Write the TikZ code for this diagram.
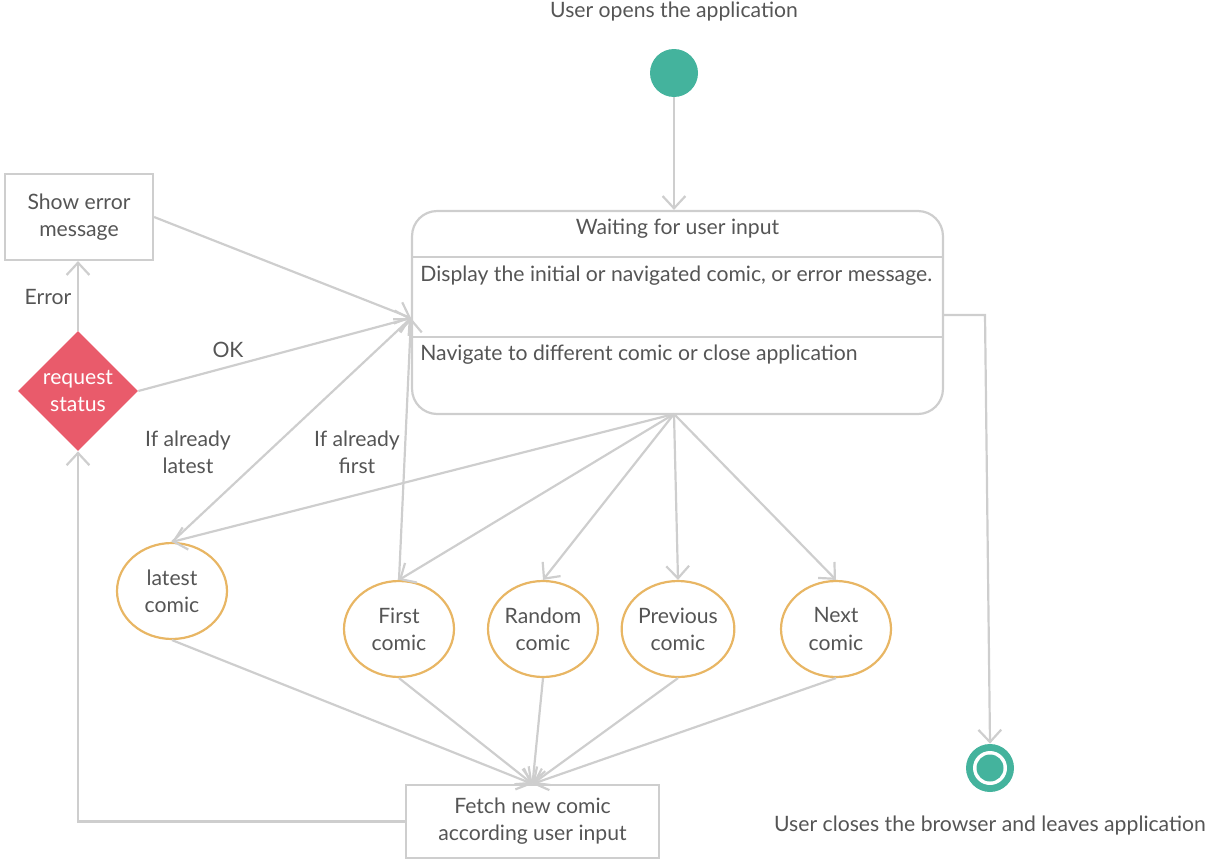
\documentclass[tikz,border=0pt]{standalone}
\usepackage{fontspec}
\setmainfont{Lato}
\usetikzlibrary{arrows.meta,shapes.geometric,calc}
\definecolor{linegray}{RGB}{206,206,206}
\definecolor{txt}{RGB}{85,85,85}
\definecolor{tealc}{RGB}{68,179,157}
\definecolor{goldc}{RGB}{232,182,100}
\definecolor{rosec}{RGB}{233,91,107}
\begin{document}
\begin{tikzpicture}[x=0.02cm,y=-0.02cm,
  font=\fontsize{12.05}{15.4}\selectfont, text=txt,
  conn/.style={draw=linegray, line width=1.25pt},
  arr/.style={conn, -{Straight Barb[length=7pt,width=13pt]}},
  boxst/.style={draw=linegray, line width=1.25pt, align=center, inner sep=0pt},
  comic/.style={ellipse, draw=goldc, line width=1.25pt, minimum width=2.2cm, minimum height=1.92cm, inner sep=0pt, align=center},
  lbl/.style={align=center, inner sep=0pt}]
\useasboundingbox (0,0) rectangle (1206,862);

% start
\node[circle, fill=tealc, minimum size=0.96cm, inner sep=0pt] (start) at (674,73) {};
\node[lbl] (starttxt) at (674,12) {User opens the application};

% waiting state
\node[boxst, rounded corners=0.5cm, minimum width=10.62cm, minimum height=4.06cm] (wait) at (677.5,312.5) {};
\draw[conn] (412,257) -- (943,257);
\draw[conn] (412,337) -- (943,337);
\node[lbl] (waittitle) at (677.5,229) {Waiting for user input};
\node[lbl, anchor=west] (disp) at (420,276) {Display the initial or navigated comic, or error message.};
\node[lbl, anchor=west] (nav) at (420,355) {Navigate to different comic or close application};

% error box and decision
\node[boxst, minimum width=2.96cm, minimum height=1.72cm] (err) at (79,217) {Show error\\message};
\node[diamond, fill=rosec, minimum width=2.4cm, minimum height=2.4cm, inner sep=0pt, text=white, align=center] (req) at (78,391) {request\\status};

% comics
\node[comic] (latest) at (172,591) {latest\\comic};
\node[comic] (first) at (399,629) {First\\comic};
\node[comic] (random) at (543,629) {Random\\comic};
\node[comic] (previous) at (678,629) {Previous\\comic};
\node[comic] (next) at (836,629) {Next\\comic};

% fetch
\node[boxst, minimum width=5.06cm, minimum height=1.46cm] (fetch) at (532.5,821.5) {Fetch new comic\\according user input};

% end
\node[circle, fill=tealc, minimum size=0.96cm, inner sep=0pt] (end) at (990,768) {};
\fill[white] (end.center) circle (0.34cm);
\fill[tealc] (end.center) circle (0.27cm);
\node[lbl] (endtxt) at (990,826) {User closes the browser and leaves application};

% coordinates
\coordinate (hub) at (411,318);
\coordinate (fan) at (674,414);
\coordinate (exitpt) at (943,315);
\coordinate (exitbend) at (985,315);

% connectors
\draw[arr] (start) -- (start |- wait.north);
\draw[arr] (req.north) -- (req.north |- err.south);
\node[lbl] (errlbl) at (48,297) {Error};
\draw[arr] (err.east) -- (hub);
\draw[arr] (req.east) -- (hub);
\node[lbl] (oklbl) at (228,350) {OK};
\draw[arr] (latest.north) -- (hub);
\draw[arr] (first.north) -- (hub);
\node[lbl] (latestlbl) at (188,452) {If already\\latest};
\node[lbl] (firstlbl) at (357,452) {If already\\first};

\draw[arr] (fan) -- (latest.north);
\draw[arr] (fan) -- (first.north);
\draw[arr] (fan) -- (random.north);
\draw[arr] (fan) -- (previous.north);
\draw[arr] (fan) -- (next.north);

\draw[arr] (latest.south) -- (fetch.north);
\draw[arr] (first.south) -- (fetch.north);
\draw[arr] (random.south) -- (fetch.north);
\draw[arr] (previous.south) -- (fetch.north);
\draw[arr] (next.south) -- (fetch.north);

\draw[arr] (fetch.west) -| (req.south);
\draw[arr] (exitpt) -- (exitbend) -- (end.north);
\end{tikzpicture}
\end{document}
